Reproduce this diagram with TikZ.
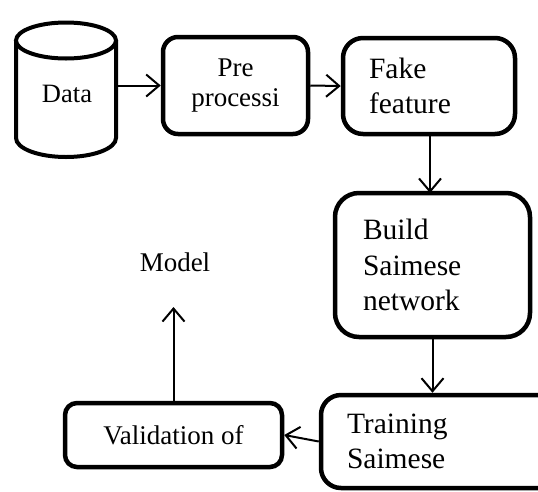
\documentclass[tikz,border=0pt]{standalone}
\usepackage{fontspec}
\setmainfont{Liberation Serif}
\usetikzlibrary{arrows.meta}
\begin{document}
\begin{tikzpicture}[x=1pt,y=-1pt,
  box/.style={draw=black,line width=4.5pt,fill=white,inner sep=0pt},
  cyl/.style={draw=black,line width=4pt,fill=white},
  arr/.style={draw=black,line width=2pt,-{Straight Barb[length=13pt,width=22pt,line width=2pt]}},
  smallfont/.style={font=\fontsize{27}{30}\selectfont},
  bigfont/.style={font=\fontsize{29.5}{35.5}\selectfont}]
\useasboundingbox (0,0) rectangle (538,491);
\fill[white] (0,0) rectangle (538,491);
% cylinder
\draw[cyl] (16,40.5) -- (16,138) arc[start angle=180,end angle=0,x radius=50,y radius=19] -- (116,40.5);
\draw[cyl] (66,40.5) ellipse[x radius=50,y radius=18];
\node[font=\fontsize{26.5}{30}\selectfont,anchor=base,minimum width=100pt,inner sep=0pt] (data) at (67,102) {Data};
% boxes
\node[box,smallfont,rounded corners=15pt,minimum width=145pt,minimum height=97pt,align=center] (pre) at (235.5,85.5) {Pre\\processi};
\node[box,bigfont,rounded corners=20pt,minimum width=172pt,minimum height=96pt,text width=120pt,inner xsep=26pt,align=left] (fake) at (429,86) {Fake\\feature};
\node[box,bigfont,rounded corners=24pt,minimum width=195pt,minimum height=144pt,text width=139pt,inner xsep=28pt,align=left] (build) at (432.5,265) {Build\\Saimese\\network};
\node[box,bigfont,rounded corners=20pt,minimum width=259pt,minimum height=93pt,text width=207pt,inner xsep=26pt,align=left] (train) at (450.5,441.5) {Training\\Saimese};
\node[box,smallfont,rounded corners=12pt,minimum width=217pt,minimum height=64pt,align=center] (valid) at (173.5,435) {Validation of};
\node[smallfont,anchor=base,inner sep=0pt] (model) at (175,271) {Model};
\coordinate (modelin) at (173.5,307);
% connectors
\draw[arr] (data.east |- pre.west) -- (pre.west);
\draw[arr] (pre.east) -- (fake.west);
\draw[arr] (430,134) -- (430,193);
\draw[arr] (build.south) -- (build.south |- train.north);
\draw[arr] (train.west) -- (valid.east);
\draw[arr] (valid.north) -- (valid.north |- modelin);
\end{tikzpicture}
\end{document}
